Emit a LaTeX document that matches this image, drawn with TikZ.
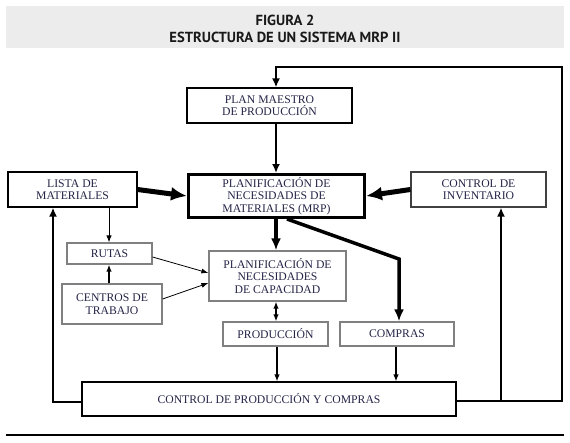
\documentclass[tikz,border=0pt]{standalone}
\usepackage{fontspec}
\setmainfont{Liberation Serif}
\newfontfamily\titlefont{PT Sans}
\usetikzlibrary{arrows.meta,calc}
\definecolor{txt}{RGB}{35,35,70}
\definecolor{band}{RGB}{236,236,236}
\begin{document}
\begin{tikzpicture}[x=1pt,y=-1pt,
  box/.style={draw=black, line width=1.2pt, inner sep=0pt, align=center,
    font=\fontsize{11.7}{12.5}\selectfont, text=txt},
  gbox/.style={box, draw=black!50},
  fb/.style={line width=2.4pt, -{Latex[length=9pt,width=8pt]}},
  big/.style={line width=5pt, -{Latex[length=16pt,width=14pt]}},
  thk/.style={line width=3.5pt, -{Latex[length=12pt,width=10pt]}},
  thn/.style={line width=1pt, -{Latex[length=7pt,width=5.5pt]}},
  hair/.style={line width=0.8pt, -{Latex[length=7pt,width=5pt]}},
  title/.style={font=\titlefont\bfseries\fontsize{14.6}{16}\selectfont, text=black!90}
]
\useasboundingbox (0,0) rectangle (570,442);
\fill[band] (6,6) rectangle (564,48);
\node[title] (t1) at (285,20) {FIGURA 2};
\node[title] (t2) at (285,37.5) {ESTRUCTURA DE UN SISTEMA MRP II};

% boxes
\node[box, minimum width=165pt, minimum height=35pt] (plan) at (269.5,105.5) {PLAN MAESTRO\\DE PRODUCCIÓN};
\node[box, line width=3pt, minimum width=176pt, minimum height=43pt] (mrp) at (276.5,196) {PLANIFICACIÓN DE\\NECESIDADES DE\\MATERIALES (MRP)};
\node[box, minimum width=129pt, minimum height=35pt] (lista) at (72.5,189.5) {LISTA DE\\MATERIALES};
\node[gbox, draw=black!75, minimum width=135pt, minimum height=35pt] (inv) at (478.5,189.5) {CONTROL DE\\INVENTARIO};
\node[gbox, minimum width=85pt, minimum height=21pt] (rutas) at (109.5,253.5) {RUTAS};
\node[gbox, minimum width=100pt, minimum height=40pt] (centros) at (112,304) {CENTROS DE\\TRABAJO};
\node[gbox, minimum width=137pt, minimum height=50pt] (cap) at (277.5,276) {PLANIFICACIÓN DE\\NECESIDADES\\DE CAPACIDAD};
\node[gbox, minimum width=105pt, minimum height=24pt] (prod) at (275.5,334) {PRODUCCIÓN};
\node[gbox, minimum width=114pt, minimum height=24pt] (compras) at (397,334) {COMPRAS};
\node[box, minimum width=374pt, minimum height=34pt] (control) at (269,399) {CONTROL DE PRODUCCIÓN Y COMPRAS};

% helper coordinates
\coordinate (xa) at (276,0);
\coordinate (xp) at (277,0);
\coordinate (xl) at (53,0);
\coordinate (xr) at (562,0);
\coordinate (xi) at (501,0);
\coordinate (xk) at (399,0);
\coordinate (xc) at (396,0);
\coordinate (xs) at (109,0);
\coordinate (xm) at (287,0);
\coordinate (yt) at (0,67);
\coordinate (ybl) at (0,402);
\coordinate (ybr) at (0,401);
\coordinate (bend) at (399,259);

% connectors
\draw[fb] (control.east |- ybr) -| (xr |- yt) -| (plan.north -| xa);
\draw[fb] (plan.south -| xa) -- (mrp.north -| xa);
\draw[fb] (xi |- ybr) -- (inv.south -| xi);
\draw[fb] (control.west |- ybl) -| (lista.south -| xl);
\draw[big] (lista.east) -- (mrp.west);
\draw[big] (inv.west) -- (mrp.east);
\draw[thk] (mrp.south -| xa) -- (cap.north -| xa);
\draw[thk] (mrp.south -| xm) -- (bend) -- (compras.north -| xk);
\draw[thn] (lista.south -| xs) -- (rutas.north -| xs);
\draw[thn, line width=1.4pt] (centros.north -| xs) -- (rutas.south -| xs);
\draw[hair] ($(rutas.east)+(0,3.5)$) -- ($(cap.west)+(0,-3)$);
\draw[hair] ($(centros.east)+(0,-5)$) -- ($(cap.west)+(0,7)$);
\draw[thn, line width=1.4pt, {Latex[length=7pt,width=5.5pt]}-{Latex[length=7pt,width=5.5pt]}] (cap.south -| xa) -- (prod.north -| xa);
\draw[thn, line width=1.2pt] (prod.south -| xp) -- (control.north -| xp);
\draw[thn, line width=1.2pt] (compras.south -| xc) -- (control.north -| xc);

\draw[line width=1.3pt] (6,435) -- (564,435);
\end{tikzpicture}
\end{document}
